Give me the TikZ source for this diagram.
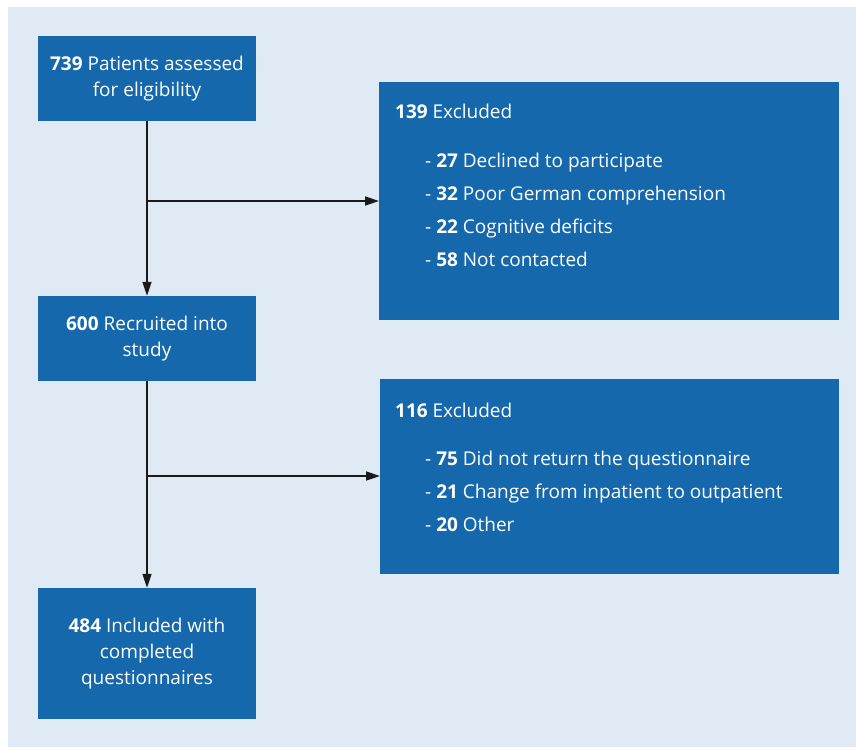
\documentclass[tikz,border=0pt]{standalone}
\usepackage{fontspec}
\setmainfont{Open Sans}
\usetikzlibrary{arrows.meta}
\definecolor{boxblue}{HTML}{1668AD}
\definecolor{panelblue}{HTML}{E0EAF4}
\definecolor{linegray}{HTML}{1A1A1A}
\begin{document}
\begin{tikzpicture}[
    x=1pt, y=-1pt,
    stage/.style={rectangle, fill=boxblue, text=white, minimum width=218pt, minimum height=85pt, align=center, inner sep=0pt, font=\fontsize{19}{26}\selectfont},
    excluded/.style={rectangle, fill=boxblue, anchor=north west, inner sep=0pt},
    excltext/.style={text=white, align=left, anchor=base west, inner sep=0pt, font=\fontsize{19}{33}\selectfont},
    arrow/.style={-{Triangle[length=14pt, width=9pt]}, line width=1.5pt, linegray}
]

% frame
\useasboundingbox (0,0) rectangle (856,747);
\fill[panelblue] (8,7) rectangle (856,747);

\node[stage] (assessed) at (147,78.5) {\textbf{739} Patients assessed\\for eligibility};
\node[stage] (recruited) at (147,338.5) {\textbf{600} Recruited into\\study};
\node[stage, minimum height=131pt] (included) at (147,653.5) {\textbf{484} Included with\\completed\\questionnaires};

% base of a list node = baseline of its last line
\node[excluded, minimum width=460pt, minimum height=238pt] (excl1) at (379,82) {};
\node[excltext] (excl1title) at (395,118) {\textbf{139} Excluded};
\node[excltext] (excl1list) at (425,266) {- \textbf{27} Declined to participate\\
    - \textbf{32} Poor German comprehension\\
    - \textbf{22} Cognitive deficits\\
    - \textbf{58} Not contacted};

\node[excluded, minimum width=459pt, minimum height=195pt] (excl2) at (380,379) {};
\node[excltext] (excl2title) at (395,417) {\textbf{116} Excluded};
\node[excltext] (excl2list) at (425,531) {- \textbf{75} Did not return the questionnaire\\
    - \textbf{21} Change from inpatient to outpatient\\
    - \textbf{20} Other};

\coordinate (split1) at (147,201);
\coordinate (split2) at (147,476);

\draw[arrow] (assessed) -- (recruited);
\draw[arrow] (recruited) -- (included);
\draw[arrow] (split1) -- (split1 -| excl1.west);
\draw[arrow] (split2) -- (split2 -| excl2.west);

\end{tikzpicture}
\end{document}
